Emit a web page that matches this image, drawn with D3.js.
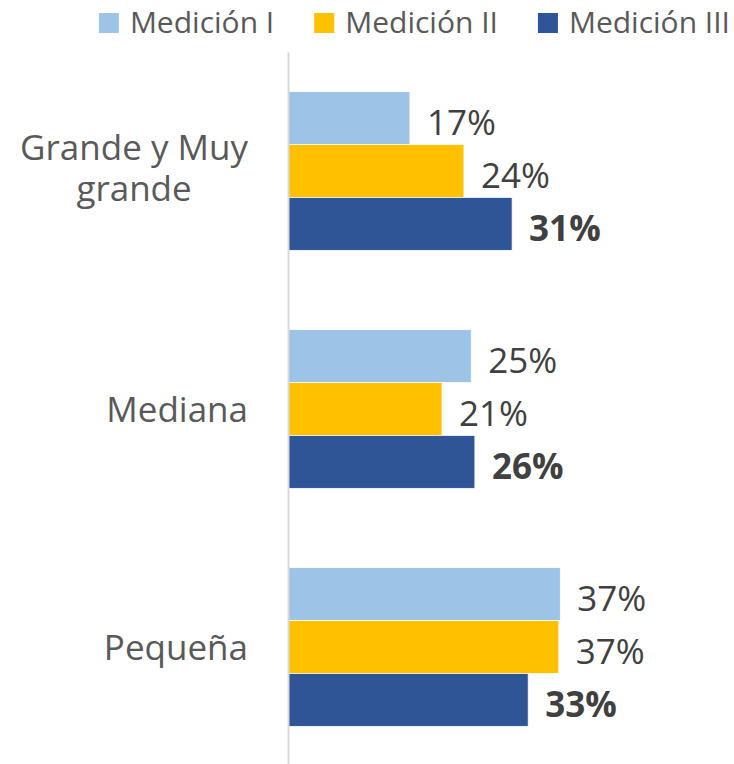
<!DOCTYPE html>
<html>
<head>
<meta charset="utf-8">
<script src="https://cdn.jsdelivr.net/npm/d3@7"></script>
<style>
  body { margin: 0; background: #fff; }
  svg { display: block; font-family: "Open Sans", "Noto Sans", sans-serif; }
</style>
</head>
<body>
<div id="chart"></div>
<script>
// data
const categories = ["Grande y Muy grande", "Mediana", "Pequeña"];
const series = ["Medición I", "Medición II", "Medición III"];
const medicion1 = [0.167, 0.251, 0.373];
const medicion2 = [0.241, 0.211, 0.371];
const medicion3 = [0.307, 0.256, 0.329];
const colors = ["#9DC3E6", "#FFC000", "#2F5597"];

const width = 734;
const height = 764;
const axisX = 288;

const values = [medicion1, medicion2, medicion3];
const rows = [];
categories.forEach((c, i) => {
  series.forEach((s, j) => {
    rows.push({ category: c, series: s, idx: j, value: values[j][i] });
  });
});

const svg = d3.select("#chart")
  .append("svg")
  .attr("width", width)
  .attr("height", height);

const x = d3.scaleLinear()
  .domain([0, 0.40])
  .range([axisX, axisX + 292]);

const y = d3.scaleBand()
  .domain(categories)
  .range([52, 766])
  .paddingInner(1 / 3)
  .paddingOuter(1 / 6);

const ySub = d3.scaleBand()
  .domain(series)
  .range([0, y.bandwidth()]);

// bars
svg.selectAll(".bar")
  .data(rows)
  .enter()
  .append("rect")
  .attr("class", "bar")
  .attr("x", x(0))
  .attr("y", d => y(d.category) + ySub(d.series))
  .attr("width", d => x(d.value) - x(0))
  .attr("height", ySub.bandwidth())
  .attr("fill", d => colors[d.idx])
  .attr("stroke", "#fff")
  .attr("stroke-width", 0.75);

// value labels
const pct = d3.format(".0%");
svg.selectAll(".val")
  .data(rows)
  .enter()
  .append("text")
  .attr("class", "val")
  .attr("x", d => x(d.value) + 17)
  .attr("y", d => y(d.category) + ySub(d.series) + ySub.bandwidth() / 2 + 17)
  .style("font-size", "35px")
  .style("font-weight", d => d.idx === 2 ? "bold" : "normal")
  .attr("fill", "#404040")
  .text(d => pct(d.value));

// vertical axis line
const yAxis = svg.append("g")
  .attr("transform", `translate(${axisX},0)`)
  .call(d3.axisLeft(y).tickSize(0).tickSizeOuter(0).tickFormat(""));
yAxis.select(".domain")
  .attr("stroke", "#D9D9D9")
  .attr("stroke-width", 2);

// category labels, wrapped and centred in a block ending at x=248
const labelRight = 248;
const maxLine = 240;
categories.forEach(c => {
  const t = svg.append("text")
    .style("font-size", "35px")
    .attr("fill", "#595959")
    .attr("text-anchor", "middle");
  const words = c.split(" ");
  const lines = [];
  let line = [];
  words.forEach(w => {
    line.push(w);
    t.text(line.join(" "));
    if (t.node().getComputedTextLength() > maxLine && line.length > 1) {
      line.pop();
      lines.push(line.join(" "));
      line = [w];
    }
  });
  lines.push(line.join(" "));
  t.text(null);
  const widths = lines.map(l => { t.text(l); return t.node().getComputedTextLength(); });
  t.text(null);
  const cx = labelRight - d3.max(widths) / 2;
  const center = y(c) + y.bandwidth() / 2;
  const n = lines.length;
  lines.forEach((l, i) => {
    t.append("tspan")
      .attr("x", cx)
      .attr("y", center + 13 - (n - 1) * 24 + i * 41)
      .text(l);
  });
});

// legend
const legend = svg.append("g");
let lx = 0;
series.forEach((s, i) => {
  const g = legend.append("g").attr("transform", `translate(${lx},0)`);
  g.append("rect")
    .attr("x", 0)
    .attr("y", 13)
    .attr("width", 20)
    .attr("height", 20)
    .attr("fill", colors[i]);
  const t = g.append("text")
    .attr("x", 31)
    .attr("y", 33)
    .style("font-size", "30px")
    .attr("fill", "#595959")
    .text(s);
  lx += 31 + t.node().getComputedTextLength() + 40;
});
const legendW = lx - 40;
let legendX = 415 - legendW / 2;
if (legendX + legendW > 730) legendX = 730 - legendW;
legend.attr("transform", `translate(${legendX},0)`);
</script>
</body>
</html>
